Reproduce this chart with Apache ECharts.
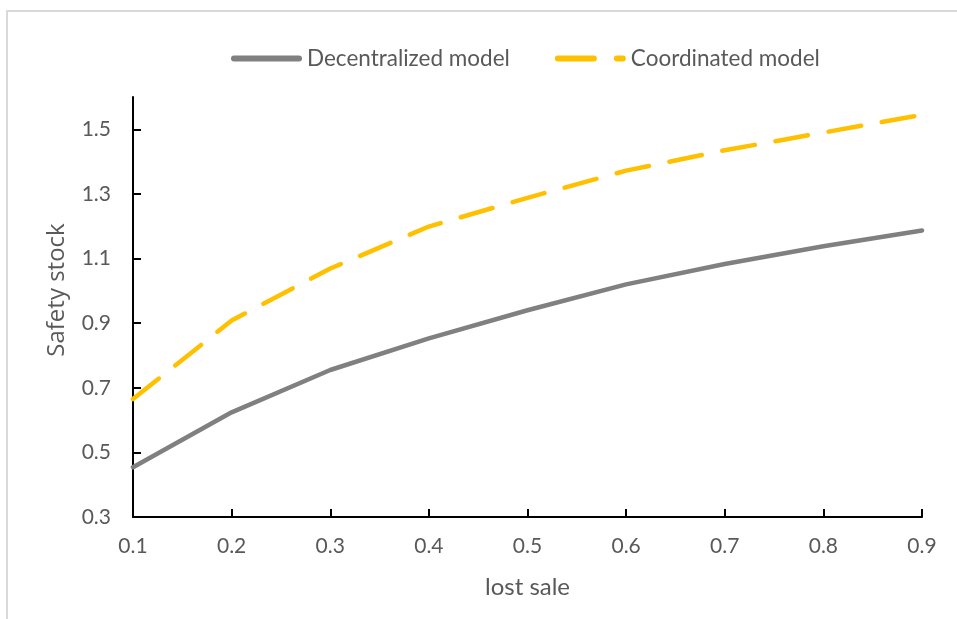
<!DOCTYPE html>
<html>
<head>
<meta charset="utf-8">
<script src="https://cdn.jsdelivr.net/npm/echarts@6/dist/echarts.min.js"></script>
<style>
  html, body { margin: 0; padding: 0; background: #fff; }
  #chart { width: 957px; height: 619px; }
</style>
</head>
<body>
<div id="chart"></div>
<script>
// Lost-sale ratio on the horizontal axis
const lostSale = ['0.1', '0.2', '0.3', '0.4', '0.5', '0.6', '0.7', '0.8', '0.9'];
// Safety stock under each model
const decentralized = [0.454, 0.624, 0.755, 0.853, 0.940, 1.020, 1.083, 1.138, 1.187];
const coordinated = [0.665, 0.908, 1.069, 1.199, 1.288, 1.372, 1.435, 1.490, 1.545];
// Labelled ticks on the vertical axis
const yTicks = [0.3, 0.5, 0.7, 0.9, 1.1, 1.3, 1.5];

const bodyFont = "Lato, 'Liberation Sans', sans-serif";
const textGray = '#595959';

const chart = echarts.init(document.getElementById('chart'), null, { renderer: 'canvas' });

chart.setOption({
  backgroundColor: '#ffffff',
  animation: false,
  graphic: [{
    type: 'rect',
    shape: { x: 7, y: 11, width: 980, height: 640 },
    style: { fill: 'none', stroke: '#d9d9d9', lineWidth: 2 },
    silent: true
  }],
  legend: {
    top: 42,
    left: 226,
    itemWidth: 71,
    itemHeight: 6,
    itemGap: 45,
    textStyle: { fontFamily: bodyFont, fontSize: 22.5, color: textGray },
    data: [
      { name: 'Decentralized model', icon: 'path://M3,0H68A3,3,0,0,1,68,6H3A3,3,0,0,1,3,0Z' },
      { name: 'Coordinated model', icon: 'path://M3,0H39A3,3,0,0,1,39,6H3A3,3,0,0,1,3,0Z M62,0H68A3,3,0,0,1,68,6H62A3,3,0,0,1,62,0Z' }
    ]
  },
  grid: { left: 133, right: 35, top: 97, bottom: 102 },
  xAxis: {
    type: 'category',
    data: lostSale,
    boundaryGap: false,
    name: 'lost sale',
    nameLocation: 'middle',
    nameGap: 58,
    nameTextStyle: { fontFamily: bodyFont, fontSize: 24, color: textGray },
    axisLine: { lineStyle: { color: '#000', width: 2 } },
    axisTick: { show: true, inside: true, length: 8, alignWithLabel: true, lineStyle: { color: '#000', width: 2 } },
    axisLabel: { fontFamily: bodyFont, fontSize: 21, color: textGray, margin: 19 },
    splitLine: { show: false }
  },
  yAxis: {
    type: 'value',
    min: 0.3,
    max: 1.6,
    name: 'Safety stock',
    nameLocation: 'middle',
    nameGap: 64,
    nameTextStyle: { fontFamily: "'Open Sans', sans-serif", fontSize: 24, color: textGray, padding: [0, 0, 0, 34] },
    axisLine: { show: true, lineStyle: { color: '#000', width: 2 } },
    axisTick: { show: true, inside: true, length: 8, customValues: yTicks, lineStyle: { color: '#000', width: 2 } },
    axisLabel: { fontFamily: bodyFont, fontSize: 21, color: textGray, margin: 22, customValues: yTicks,
      formatter: v => v.toFixed(1) },
    splitLine: { show: false }
  },
  series: [
    {
      name: 'Decentralized model',
      type: 'line',
      data: decentralized,
      symbol: 'none',
      color: '#808080',
      lineStyle: { color: '#808080', width: 4.5, cap: 'round', join: 'round' }
    },
    {
      name: 'Coordinated model',
      type: 'line',
      data: coordinated,
      symbol: 'none',
      color: '#ffc000',
      lineStyle: { color: '#ffc000', width: 4.5, type: [33, 21], cap: 'round', join: 'round' }
    }
  ]
});
</script>
</body>
</html>
